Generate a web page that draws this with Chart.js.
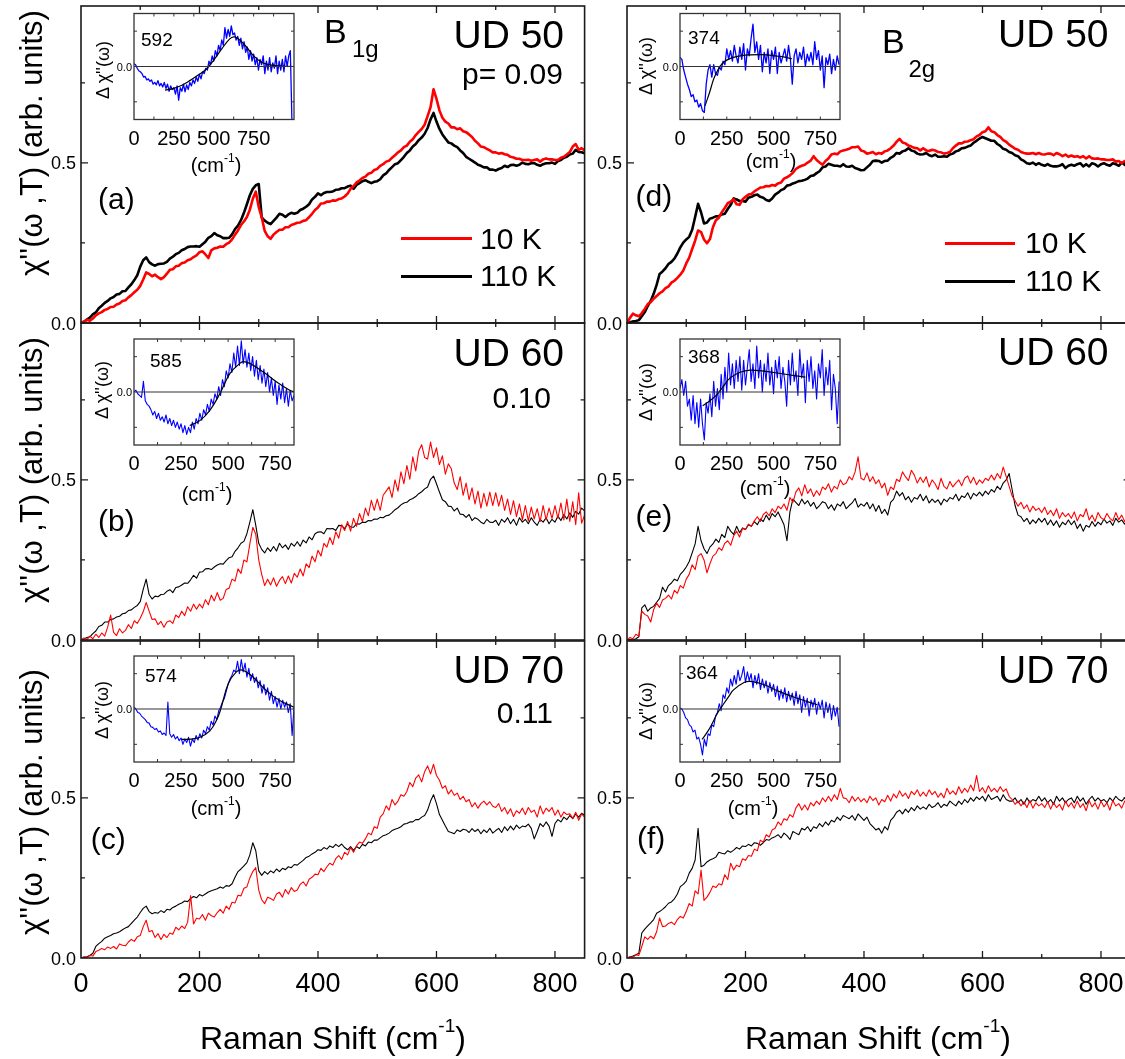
<!DOCTYPE html>
<html>
<head>
<meta charset="utf-8">
<title>Raman response B1g / B2g, UD 50 / 60 / 70</title>
<script src="https://cdn.jsdelivr.net/npm/chart.js@4.4.1/dist/chart.umd.min.js"></script>
<style>
  html, body { margin: 0; padding: 0; background: #fff; }
  body { position: relative; width: 1125px; height: 1059px; overflow: hidden;
         font-family: "Liberation Sans", Arial, Helvetica, sans-serif; color: #000; }
  canvas { position: absolute; left: 0; top: 0; }
  .t { position: absolute; white-space: nowrap; line-height: 1; z-index: 5; }
  .r { transform: translateX(-100%); }
  .c { transform: translateX(-50%); }
  .rot { transform: translate(-50%, -50%) rotate(-90deg); }
  .sup { font-size: 0.6em; position: relative; top: -0.85em; }
  .leg { position: absolute; height: 3px; z-index: 5; }
</style>
</head>
<body>
<script>
// spectra are sampled every 5 cm-1 from 0 to 850, insets every 10 cm-1
const ramanStep = 5;
const insetStep = 10;

// B1g, UD 50 (a)
const a10K = [
  0,.004,.01,.007,.014,.024,.03,.034,.041,.044,
  .05,.051,.058,.061,.069,.071,.08,.087,.096,.104,
  .116,.136,.158,.153,.146,.151,.143,.137,.143,.154,
  .166,.168,.177,.179,.187,.189,.196,.199,.206,.211,
  .221,.224,.214,.203,.227,.233,.235,.239,.238,.246,
  .251,.261,.276,.289,.306,.317,.331,.354,.388,.41,
  .362,.33,.288,.271,.263,.276,.284,.291,.291,.299,
  .299,.306,.309,.313,.314,.319,.321,.331,.341,.353,
  .361,.373,.374,.379,.379,.383,.382,.387,.389,.395,
  .404,.419,.427,.439,.445,.453,.457,.466,.469,.478,
  .481,.491,.496,.504,.507,.516,.524,.533,.539,.549,
  .554,.566,.574,.587,.597,.606,.619,.646,.674,.73,
  .7,.664,.641,.629,.623,.611,.611,.605,.608,.599,
  .596,.589,.581,.569,.561,.551,.549,.544,.539,.533,
  .533,.529,.531,.527,.525,.519,.517,.513,.513,.509,
  .509,.51,.507,.509,.511,.504,.511,.514,.511,.511,
  .509,.509,.516,.519,.526,.534,.551,.559,.541,.546,
  .539
];
const a110K = [
  0,.004,.011,.017,.027,.033,.046,.054,.063,.069,
  .077,.081,.089,.091,.099,.1,.111,.121,.134,.149,
  .176,.196,.205,.19,.183,.179,.184,.185,.186,.191,
  .201,.207,.215,.219,.227,.231,.237,.239,.239,.24,
  .238,.246,.254,.266,.271,.281,.274,.271,.265,.265,
  .266,.277,.293,.304,.321,.344,.371,.399,.419,.43,
  .434,.33,.32,.313,.309,.319,.329,.341,.338,.331,
  .339,.344,.341,.344,.353,.357,.363,.371,.386,.394,
  .405,.399,.406,.409,.409,.411,.416,.417,.421,.421,
  .426,.429,.419,.431,.437,.443,.446,.441,.437,.441,
  .443,.449,.461,.467,.478,.487,.496,.499,.509,.519,
  .531,.539,.551,.559,.571,.579,.591,.609,.636,.656,
  .629,.606,.589,.576,.564,.561,.554,.549,.539,.531,
  .519,.513,.507,.501,.494,.491,.486,.486,.479,.479,
  .476,.481,.484,.491,.487,.493,.494,.491,.494,.501,
  .497,.496,.499,.499,.494,.491,.496,.499,.499,.501,
  .497,.506,.509,.516,.519,.526,.529,.541,.534,.533,
  .53
];

// B1g, UD 60 (b)
const b10K = [
  0,.006,.001,.012,.004,.018,.008,.022,.012,.04,
  .078,.024,.014,.035,.022,.03,.048,.036,.06,.052,
  .068,.088,.117,.09,.064,.066,.048,.058,.04,.056,
  .06,.052,.078,.07,.09,.076,.104,.09,.112,.096,
  .112,.1,.126,.11,.14,.122,.148,.124,.13,.158,
  .162,.19,.184,.222,.208,.25,.244,.3,.352,.33,
  .25,.205,.17,.19,.172,.194,.168,.186,.198,.176,
  .2,.178,.208,.196,.222,.2,.238,.226,.262,.244,
  .28,.262,.302,.29,.32,.298,.338,.318,.36,.342,
  .37,.34,.38,.355,.395,.37,.412,.388,.436,.405,
  .44,.405,.452,.465,.478,.445,.5,.465,.525,.488,
  .545,.502,.572,.528,.59,.61,.57,.565,.618,.57,
  .6,.548,.575,.518,.55,.535,.49,.47,.51,.452,
  .49,.438,.475,.425,.465,.412,.458,.418,.462,.42,
  .46,.418,.452,.405,.44,.392,.435,.385,.425,.375,
  .42,.372,.415,.378,.41,.37,.42,.375,.412,.38,
  .42,.38,.428,.375,.44,.37,.432,.36,.46,.365,
  .39
];
const b110K = [
  0,.003,.008,.01,.02,.028,.042,.046,.056,.056,
  .064,.066,.072,.074,.082,.084,.092,.094,.102,.108,
  .12,.158,.19,.142,.128,.137,.135,.142,.143,.152,
  .157,.148,.164,.166,.172,.178,.177,.188,.202,.193,
  .212,.213,.222,.223,.22,.228,.234,.238,.237,.248,
  .257,.26,.277,.288,.302,.308,.332,.368,.407,.358,
  .302,.283,.272,.288,.277,.292,.278,.302,.288,.297,
  .283,.302,.293,.307,.293,.312,.303,.322,.313,.332,
  .337,.338,.332,.348,.347,.348,.342,.358,.357,.348,
  .362,.353,.352,.363,.362,.368,.367,.373,.372,.378,
  .377,.383,.382,.388,.39,.398,.407,.413,.422,.428,
  .43,.438,.442,.448,.457,.463,.472,.478,.502,.512,
  .488,.462,.438,.432,.418,.417,.403,.412,.393,.392,
  .383,.392,.373,.382,.377,.368,.363,.377,.368,.367,
  .374,.358,.377,.368,.382,.363,.377,.358,.382,.368,
  .377,.363,.382,.368,.358,.377,.368,.382,.363,.377,
  .368,.387,.373,.392,.378,.397,.383,.402,.393,.412,
  .403
];

// B1g, UD 70 (c)
const c10K = [
  0,.004,.002,.008,.006,.02,.024,.03,.026,.034,
  .03,.036,.028,.044,.04,.038,.05,.058,.052,.066,
  .07,.098,.118,.082,.086,.064,.076,.058,.074,.064,
  .078,.074,.096,.088,.1,.092,.112,.195,.106,.124,
  .122,.136,.118,.14,.132,.128,.142,.152,.14,.162,
  .152,.174,.172,.196,.194,.218,.222,.25,.27,.282,
  .212,.182,.17,.19,.186,.18,.2,.205,.19,.214,
  .2,.22,.208,.212,.23,.238,.225,.246,.252,.262,
  .26,.28,.27,.285,.296,.29,.31,.32,.308,.33,
  .322,.345,.33,.35,.362,.358,.372,.39,.385,.41,
  .405,.44,.45,.475,.462,.495,.478,.49,.51,.505,
  .52,.548,.535,.562,.572,.55,.582,.6,.575,.605,
  .57,.555,.53,.538,.512,.525,.508,.515,.495,.505,
  .488,.495,.472,.485,.468,.482,.49,.478,.488,.474,
  .47,.482,.458,.47,.45,.466,.442,.46,.452,.468,
  .448,.47,.455,.462,.44,.475,.45,.468,.458,.47,
  .446,.462,.44,.456,.448,.45,.436,.455,.43,.45,
  .44
];
const c110K = [
  0,.002,.004,.008,.015,.036,.045,.052,.062,.066,
  .07,.076,.078,.082,.088,.094,.098,.108,.118,.128,
  .142,.155,.162,.145,.138,.142,.14,.148,.142,.152,
  .15,.158,.162,.168,.172,.178,.176,.186,.192,.188,
  .198,.194,.2,.206,.21,.213,.216,.222,.218,.226,
  .224,.232,.252,.27,.278,.288,.298,.322,.36,.335,
  .272,.258,.27,.262,.272,.266,.278,.27,.28,.276,
  .285,.282,.292,.29,.298,.305,.314,.318,.325,.33,
  .338,.336,.345,.34,.35,.345,.355,.348,.356,.345,
  .338,.348,.336,.348,.342,.355,.35,.362,.36,.368,
  .368,.375,.382,.385,.39,.398,.402,.405,.41,.418,
  .42,.425,.425,.432,.432,.44,.445,.462,.49,.51,
  .482,.448,.43,.412,.395,.392,.388,.4,.395,.402,
  .4,.392,.404,.395,.402,.388,.4,.392,.405,.39,
  .398,.405,.392,.41,.398,.412,.4,.415,.405,.412,
  .41,.418,.405,.372,.395,.42,.41,.425,.412,.38,
  .42,.432,.425,.44,.432,.445,.435,.45,.44,.452,
  .446
];

// B2g, UD 50 (d)
const d10K = [
  0,.016,.029,.024,.021,.031,.044,.059,.065,.076,
  .084,.093,.099,.109,.114,.126,.132,.141,.151,.164,
  .186,.204,.231,.257,.289,.284,.261,.249,.262,.299,
  .321,.329,.346,.359,.374,.379,.386,.371,.369,.386,
  .394,.401,.403,.411,.417,.423,.424,.428,.427,.431,
  .429,.436,.439,.451,.455,.461,.469,.481,.487,.491,
  .494,.501,.507,.521,.509,.501,.494,.506,.514,.526,
  .529,.527,.536,.539,.541,.544,.549,.549,.551,.539,
  .536,.529,.531,.534,.527,.531,.529,.536,.539,.546,
  .554,.566,.575,.564,.561,.554,.551,.547,.546,.539,
  .546,.539,.537,.541,.539,.534,.533,.529,.531,.534,
  .546,.554,.561,.561,.566,.567,.571,.574,.583,.587,
  .596,.599,.611,.599,.596,.587,.581,.571,.566,.557,
  .551,.544,.541,.534,.531,.529,.529,.531,.527,.531,
  .527,.526,.529,.529,.524,.531,.527,.521,.526,.519,
  .523,.519,.521,.517,.521,.514,.521,.514,.513,.514,
  .511,.511,.509,.509,.511,.504,.506,.499,.506,.499,
  .501
];
const d110K = [
  0,.002,.005,.006,.009,.021,.034,.053,.069,.091,
  .119,.153,.161,.171,.184,.191,.201,.217,.236,.251,
  .261,.269,.291,.331,.372,.346,.311,.314,.326,.329,
  .333,.334,.339,.341,.356,.369,.389,.386,.381,.381,
  .379,.391,.394,.399,.401,.394,.391,.384,.381,.389,
  .401,.407,.415,.419,.429,.431,.436,.439,.443,.444,
  .447,.451,.459,.461,.468,.474,.486,.489,.497,.494,
  .491,.491,.489,.496,.489,.488,.491,.484,.481,.477,
  .478,.486,.494,.506,.507,.506,.501,.506,.507,.516,
  .521,.531,.529,.536,.539,.546,.539,.536,.529,.526,
  .527,.531,.524,.521,.526,.519,.519,.521,.519,.526,
  .529,.536,.539,.546,.547,.551,.554,.563,.569,.576,
  .581,.577,.573,.569,.569,.559,.553,.544,.541,.534,
  .531,.524,.521,.511,.506,.499,.497,.501,.494,.499,
  .494,.491,.496,.491,.489,.489,.491,.496,.484,.491,
  .494,.491,.496,.499,.489,.496,.489,.499,.496,.489,
  .496,.499,.494,.491,.499,.496,.491,.501,.494,.489,
  .496
];

// B2g, UD 60 (e)
const e10K = [
  0,.008,.004,.018,.012,.09,.08,.075,.056,.095,
  .115,.102,.125,.13,.14,.128,.155,.146,.17,.162,
  .19,.205,.235,.22,.262,.27,.25,.21,.238,.262,
  .27,.288,.28,.302,.31,.296,.325,.34,.322,.348,
  .345,.362,.355,.372,.385,.37,.392,.4,.388,.41,
  .398,.418,.41,.425,.405,.445,.43,.462,.475,.45,
  .485,.458,.472,.448,.466,.452,.478,.47,.488,.462,
  .48,.472,.5,.485,.49,.51,.5,.525,.572,.505,
  .5,.522,.495,.51,.488,.5,.475,.49,.452,.478,
  .47,.502,.495,.525,.51,.498,.53,.515,.49,.508,
  .492,.51,.478,.5,.488,.47,.505,.48,.472,.495,
  .478,.49,.5,.482,.505,.512,.49,.508,.485,.5,
  .49,.505,.498,.515,.5,.52,.505,.54,.51,.48,
  .45,.435,.418,.43,.41,.422,.4,.418,.405,.412,
  .398,.415,.392,.405,.388,.41,.38,.398,.385,.395,
  .38,.4,.372,.392,.385,.41,.375,.39,.37,.398,
  .382,.375,.395,.38,.372,.398,.376,.39,.37,.388,
  .378
];
const e110K = [
  0,.002,0,.004,.01,.1,.11,.09,.1,.105,
  .118,.13,.165,.15,.17,.178,.19,.185,.205,.215,
  .228,.245,.272,.3,.355,.31,.285,.27,.29,.3,
  .315,.305,.33,.32,.355,.34,.33,.355,.335,.35,
  .345,.36,.355,.37,.36,.378,.37,.39,.375,.395,
  .385,.4,.38,.36,.31,.4,.44,.43,.42,.44,
  .425,.435,.418,.43,.41,.42,.432,.428,.41,.422,
  .405,.425,.418,.432,.41,.42,.428,.442,.415,.425,
  .418,.43,.41,.425,.402,.42,.395,.408,.39,.43,
  .44,.465,.45,.46,.438,.448,.43,.445,.44,.455,
  .435,.45,.428,.44,.43,.438,.422,.44,.432,.445,
  .44,.455,.435,.45,.445,.46,.44,.458,.45,.462,
  .45,.465,.455,.47,.462,.48,.47,.49,.5,.52,
  .47,.42,.39,.385,.37,.38,.362,.375,.365,.38,
  .368,.38,.36,.375,.358,.372,.352,.368,.36,.375,
  .36,.372,.348,.362,.34,.358,.352,.37,.355,.368,
  .36,.378,.365,.372,.358,.38,.368,.375,.362,.372,
  .365
];

// B2g, UD 70 (f)
const f10K = [
  0,.004,.002,.01,.008,.036,.066,.058,.068,.06,
  .082,.125,.098,.1,.108,.112,.104,.12,.13,.125,
  .145,.17,.162,.21,.2,.275,.18,.19,.205,.225,
  .22,.232,.228,.26,.245,.296,.275,.29,.285,.31,
  .305,.32,.318,.34,.335,.368,.362,.385,.378,.4,
  .405,.425,.415,.435,.43,.448,.44,.468,.482,.462,
  .478,.462,.485,.475,.49,.48,.5,.488,.505,.49,
  .51,.495,.53,.5,.498,.485,.505,.49,.502,.488,
  .498,.485,.505,.492,.5,.478,.495,.488,.508,.49,
  .512,.5,.522,.505,.515,.498,.52,.51,.525,.505,
  .518,.505,.525,.51,.52,.502,.515,.5,.53,.512,
  .522,.51,.535,.515,.53,.518,.54,.522,.57,.52,
  .532,.515,.538,.52,.53,.518,.535,.52,.528,.505,
  .495,.48,.49,.475,.488,.47,.492,.468,.485,.475,
  .482,.47,.488,.465,.485,.47,.48,.462,.49,.472,
  .485,.468,.49,.47,.482,.46,.492,.472,.485,.465,
  .49,.472,.485,.462,.492,.475,.482,.468,.49,.478,
  .48
];
const f110K = [
  0,.003,.006,.01,.015,.078,.09,.1,.11,.12,
  .14,.145,.152,.16,.171,.175,.185,.2,.223,.23,
  .24,.265,.28,.306,.405,.285,.29,.3,.306,.31,
  .315,.33,.327,.325,.335,.33,.337,.345,.34,.35,
  .348,.355,.35,.36,.358,.352,.36,.37,.368,.375,
  .379,.385,.375,.39,.382,.37,.395,.39,.385,.405,
  .4,.41,.395,.41,.405,.42,.41,.425,.415,.43,
  .425,.44,.43,.445,.44,.435,.445,.43,.45,.44,
  .43,.44,.42,.41,.4,.405,.39,.41,.4,.43,
  .44,.455,.462,.45,.465,.455,.47,.46,.475,.465,
  .472,.465,.48,.47,.475,.485,.47,.48,.475,.49,
  .482,.475,.49,.48,.495,.485,.5,.49,.503,.495,
  .505,.49,.51,.495,.5,.505,.49,.51,.495,.49,
  .49,.5,.485,.495,.48,.5,.485,.495,.49,.505,
  .49,.5,.485,.495,.48,.505,.49,.5,.485,.495,
  .5,.485,.505,.49,.5,.48,.495,.505,.49,.5,
  .49,.495,.485,.5,.49,.505,.495,.49,.5,.495,
  .5
];

// inset difference spectra (10 K - 110 K), arbitrary units
const diffA = [
  .08,.05,-.05,-.12,-.15,-.2,-.3,-.28,-.38,-.35,
  -.42,-.38,-.5,-.45,-.52,-.4,-.55,-.48,-.58,-.45,
  -.62,-.5,-.7,-.55,-.65,-.6,-.78,-.55,-.95,-.6,
  -.7,-.5,-.72,-.52,-.65,-.45,-.55,-.38,-.48,-.3,
  -.42,-.22,-.35,-.15,-.2,-.05,-.1,.15,.05,.3,
  .15,.45,.3,.6,.45,.75,.6,1.1,.8,1.05,
  .85,1.15,.9,.95,.75,.85,.6,.8,.5,.7,
  .4,.55,.2,.45,.15,.35,.05,.25,-.1,.2,
  .05,.3,-.2,.15,-.1,.25,-.15,.1,-.05,.3,
  -.2,.15,-.1,.2,-.15,.3,0,.3,.45,-1.55
];
const diffB = [
  0,.05,-.05,-.1,-.15,.3,-.25,-.35,-.4,-.5,
  -.65,-.55,-.75,-.6,-.8,-.7,-.85,-.65,-.9,-.75,
  -.95,-.8,-1,-.85,-1.05,-.9,-1.15,-.95,-1.2,-1,
  -1.15,-.85,-1.05,-.75,-.9,-.6,-.8,-.5,-.65,-.35,
  -.55,-.2,-.35,-.05,-.2,.15,-.1,.35,.15,.6,
  .4,.8,.55,1.1,.7,1.3,.75,1.45,.8,1.2,
  .7,1.1,.6,1,.45,.9,.35,.75,.25,.65,
  .15,.55,0,.4,-.1,.3,-.35,.2,-.2,.25,
  -.3,.1,-.4,.05,-.25,-.1
];
const diffC = [
  .05,0,-.1,-.12,-.2,-.25,-.3,-.38,-.4,-.5,
  -.52,-.58,-.55,-.65,-.62,-.72,-.68,-.75,.2,-.7,
  -.8,-.72,-.85,-.78,-.9,-.82,-1,-.85,-.95,-.8,
  -1.05,-.85,-.95,-.75,-.88,-.7,-.82,-.6,-.7,-.5,
  -.6,-.35,-.45,-.2,-.3,-.05,.05,.2,.3,.5,
  .7,.85,.95,1.1,1.05,1.35,1,1.4,1.05,1.3,
  .9,1.15,.8,1,.75,.9,.6,.8,.45,.7,
  .4,.6,.25,.5,.15,.35,.05,.3,0,.25,
  .05,.2,-.1,.15,-.75,.05
];
const diffD = [
  .26,.2,-.1,-.3,-.5,-.65,-.85,-.8,-1,-.95,
  -1.15,-1.05,-1.25,-1.3,-.5,-.1,.05,-.3,.05,-.2,
  -.25,0,-.1,.15,.05,.5,.2,.45,.15,.6,
  .3,.1,.55,.2,.65,-.1,.5,.3,.8,1.2,
  .4,.7,.2,.6,-.15,.4,.1,.5,-.2,.45,
  .2,.55,-.2,.4,.1,.3,.5,.15,.6,.2,
  -.5,.3,.5,.1,.4,.2,.55,0,.35,.15,
  .4,.05,.7,.2,.45,-.1,.3,-.6,.25,.05,
  .35,-.2,.2,-.1,.3,.05
];
const diffE = [
  .1,.35,-.1,.3,-.4,-.2,-.8,-.1,-.9,-.3,
  -1,-.2,-.9,-1.36,-.3,-.6,-.05,-.7,.3,-.4,
  .1,-.5,.5,-.2,.7,0,1.1,.2,.8,.1,
  .9,.3,1,.05,.9,.2,.7,1.2,.3,.8,
  .1,1.3,.4,.9,0,.8,.3,1.1,.2,.7,
  -.05,.9,.4,1,.1,.7,.3,-.4,.9,.2,
  1.1,.3,.6,-.1,1.2,.4,.8,-.3,.9,.3,
  1,.1,.6,-.2,.8,.4,1.2,-.1,.7,.2,
  .9,-.5,.5,.1,-.9,.3
];
const diffF = [
  .03,0,-.1,-.25,-.3,-.45,-.5,-.65,-.6,-.85,
  -.8,-1,-1.3,-.85,-1.05,-.7,-.75,-.45,-.5,-.2,
  -.1,.15,-.05,.4,.3,.6,.45,.85,.65,.95,
  .7,1.1,.8,.95,1.2,.75,1.05,.8,1,.6,
  .95,.7,1,.55,.85,.6,.8,.45,.75,.5,
  .7,.35,.65,.25,.55,.3,.6,.2,.5,.25,
  .45,.1,.5,.15,.4,-.1,.35,.05,.3,-.2,
  .25,.05,.3,-.15,.2,0,.25,-.25,.2,-.1,
  .15,-.3,.1,-.2,.05,-.5
];

// fitted gap features [shift, value]
const fitA = [[194,-.67],[250,-.62],[300,-.53],[350,-.4],[400,-.25],[454,-.07],[500,.18],[550,.5],[600,.78],[625,.84],[650,.8],[700,.58],[750,.3],[800,.12],[850,.05],[900,.02],[1000,0]];
const fitB = [[296,-.95],[350,-.81],[403,-.52],[456,-.05],[509,.52],[562,.81],[580,.86],[615,.81],[686,.57],[756,.29],[827,.05],[850,0]];
const fitC = [[253,-.86],[300,-.85],[350,-.8],[403,-.62],[440,-.3],[461,0],[500,.71],[544,1.05],[576,1.1],[633,.9],[703,.52],[774,.24],[850,.05]];
const fitD = [[134,-1.11],[160,-.7],[179,-.37],[200,-.12],[223,.07],[250,.18],[286,.26],[330,.31],[375,.33],[420,.335],[464,.33],[510,.3],[554,.27],[598,.22]];
const fitE = [[121,-.39],[160,-.25],[196,-.08],[230,.15],[268,.4],[321,.56],[375,.62],[446,.59],[554,.51],[670,.42]];
const fitF = [[118,-.86],[150,-.62],[174,-.39],[200,-.12],[230,.12],[260,.35],[286,.54],[342,.75],[379,.78],[454,.68],[528,.5],[622,.31],[734,.12]];

// ticks and labels
const xTickLabels = [0, 200, 400, 600, 800];
const xMinorTicks = [100, 300, 500, 700];
const yTicks = [0, 0.5];
const yTickText = ['0.0', '0.5'];
const yMinorTicks = [0.25, 0.75];
const insetTickLabels = [0, 250, 500, 750];
const insetTicks = [125, 250, 375, 500, 625, 750, 875];
const insetYTicks = [-1, 1];
const sampleNames = ['UD 50', 'UD 60', 'UD 70'];
const dopings = ['p= 0.09', '0.10', '0.11'];
const panelTags = ['(a)', '(b)', '(c)', '(d)', '(e)', '(f)'];
const gapPeaks = ['592', '585', '574', '374', '368', '364'];
const legendNames = ['10 K', '110 K'];

const W = 1140, H = 1059;
const FONT = '"Liberation Sans", Arial, sans-serif';

function toPoints(vals, step) {
  return vals.map((v, i) => ({ x: i * step, y: v }));
}
function pairPoints(pairs) {
  return pairs.map(p => ({ x: p[0], y: p[1] }));
}

// frame, inward ticks and tick labels drawn from the chart's own scales
const framePlugin = {
  id: 'frame',
  beforeDatasetsDraw(chart, args, o) {
    if (!o.fill) return;
    const a = chart.chartArea, ctx = chart.ctx;
    ctx.save();
    ctx.fillStyle = o.fill;
    ctx.fillRect(a.left, a.top, a.right - a.left, a.bottom - a.top);
    ctx.restore();
  },
  afterDatasetsDraw(chart, args, o) {
    const ctx = chart.ctx, a = chart.chartArea;
    const xs = chart.scales.x, ys = chart.scales.y;
    ctx.save();
    ctx.strokeStyle = o.color;
    if (o.zeroLine) {
      const p = ys.getPixelForValue(0);
      ctx.lineWidth = 1.2;
      ctx.beginPath();
      ctx.moveTo(a.left, p);
      ctx.lineTo(a.right, p);
      ctx.stroke();
    }
    ctx.lineWidth = o.tickWidth;
    ctx.beginPath();
    const vTick = (v, len) => {
      if (v <= xs.min || v >= xs.max) return;
      const p = xs.getPixelForValue(v);
      ctx.moveTo(p, a.bottom); ctx.lineTo(p, a.bottom - len);
      ctx.moveTo(p, a.top); ctx.lineTo(p, a.top + len);
    };
    const hTick = (v, len) => {
      if (v <= ys.min || v >= ys.max) return;
      const p = ys.getPixelForValue(v);
      ctx.moveTo(a.left, p); ctx.lineTo(a.left + len, p);
      ctx.moveTo(a.right, p); ctx.lineTo(a.right - len, p);
    };
    o.xMajor.forEach(v => vTick(v, o.majorLen));
    o.xMinor.forEach(v => vTick(v, o.minorLen));
    o.yMajor.forEach(v => hTick(v, o.majorLen));
    o.yMinor.forEach(v => hTick(v, o.minorLen));
    ctx.stroke();
    ctx.lineWidth = o.borderWidth;
    ctx.strokeRect(a.left, a.top, a.right - a.left, a.bottom - a.top);

    ctx.fillStyle = '#000';
    ctx.textBaseline = 'alphabetic';
    if (o.xLabels) {
      ctx.font = o.xFont;
      ctx.textAlign = 'center';
      o.xLabels.forEach(v => ctx.fillText(String(v), xs.getPixelForValue(v), a.bottom + o.xLabelOffset));
    }
    if (o.yLabels) {
      ctx.font = o.yFont;
      ctx.textAlign = 'right';
      o.yLabels.forEach((v, i) => ctx.fillText(o.yLabelText[i], a.left - o.yLabelGap, ys.getPixelForValue(v) + o.yLabelShift));
    }
    ctx.restore();
  }
};
Chart.register(framePlugin);

function makeChart(box, xMax, yMin, yMax, datasets, frame) {
  const cv = document.createElement('canvas');
  cv.width = W; cv.height = H;
  cv.style.width = W + 'px'; cv.style.height = H + 'px';
  document.body.appendChild(cv);
  return new Chart(cv.getContext('2d'), {
    type: 'line',
    data: { datasets: datasets },
    options: {
      responsive: false,
      animation: false,
      devicePixelRatio: 1,
      events: [],
      layout: { padding: { left: box.left, top: box.top, right: W - box.left - box.width, bottom: H - box.top - box.height } },
      scales: {
        x: { type: 'linear', min: 0, max: xMax, display: false },
        y: { type: 'linear', min: yMin, max: yMax, display: false }
      },
      elements: { point: { radius: 0 }, line: { tension: 0, borderJoinStyle: 'round' } },
      plugins: { legend: { display: false }, tooltip: { enabled: false }, frame: frame }
    }
  });
}

// main panels
const plotW = 503.6, plotH = 317, yMax = 0.99;
const mainPanels = [
  { left: 81,  top: 6,   red: a10K, black: a110K, lw: 2.6, bottom: false },
  { left: 81,  top: 323, red: b10K, black: b110K, lw: 1.1, bottom: false },
  { left: 81,  top: 641, red: c10K, black: c110K, lw: 1.1, bottom: true },
  { left: 627, top: 6,   red: d10K, black: d110K, lw: 2.6, bottom: false },
  { left: 627, top: 323, red: e10K, black: e110K, lw: 1.1, bottom: false },
  { left: 627, top: 641, red: f10K, black: f110K, lw: 1.1, bottom: true }
];
mainPanels.forEach(p => {
  makeChart({ left: p.left, top: p.top, width: plotW, height: plotH }, 850, 0, yMax, [
    { label: legendNames[0], data: toPoints(p.red, ramanStep), borderColor: '#ff0000', borderWidth: p.lw },
    { label: legendNames[1], data: toPoints(p.black, ramanStep), borderColor: '#000000', borderWidth: p.lw }
  ], {
    color: '#1a1a1a', borderWidth: 1.6, tickWidth: 1.3, majorLen: 7, minorLen: 4,
    xMajor: xTickLabels, xMinor: xMinorTicks, yMajor: yTicks, yMinor: yMinorTicks,
    xLabels: p.bottom ? xTickLabels : null, xFont: '27px ' + FONT, xLabelOffset: 34,
    yLabels: yTicks, yLabelText: yTickText, yFont: '18px ' + FONT, yLabelGap: 5, yLabelShift: 6.5
  });
});

// insets
const insets = [
  { left: 134, top: 13.5, xMax: 1003, diff: diffA, fit: fitA, lw: 1.3 },
  { left: 134, top: 339,  xMax: 850,  diff: diffB, fit: fitB, lw: 1.1 },
  { left: 134, top: 656,  xMax: 850,  diff: diffC, fit: fitC, lw: 1.1 },
  { left: 680, top: 13.5, xMax: 855,  diff: diffD, fit: fitD, lw: 1.3 },
  { left: 680, top: 339,  xMax: 855,  diff: diffE, fit: fitE, lw: 1.1 },
  { left: 680, top: 656,  xMax: 855,  diff: diffF, fit: fitF, lw: 1.1 }
];
insets.forEach(p => {
  makeChart({ left: p.left, top: p.top, width: 160, height: 106 }, p.xMax, -1.5, 1.5, [
    { label: 'fit', data: pairPoints(p.fit), borderColor: '#000000', borderWidth: 1.2, tension: 0.4 },
    { label: 'difference', data: toPoints(p.diff, insetStep), borderColor: '#0000ff', borderWidth: p.lw }
  ], {
    fill: '#ffffff', zeroLine: true,
    color: '#333333', borderWidth: 1.3, tickWidth: 1, majorLen: 3, minorLen: 3,
    xMajor: insetTicks, xMinor: [], yMajor: insetYTicks, yMinor: [],
    xLabels: insetTickLabels, xFont: '20px ' + FONT, xLabelOffset: 25,
    yLabels: [0], yLabelText: ['0.0'], yFont: '11px ' + FONT, yLabelGap: 2, yLabelShift: 4
  });
});

// text annotations
const cm = '(cm<span class="sup">-1</span>)';
const texts = [
  // column headings
  { h: 'B', x: 324, y: 13.5, s: 34 }, { h: '1g', x: 352, y: 37, s: 24 },
  { h: 'B', x: 882, y: 23.5, s: 34 }, { h: '2g', x: 908.5, y: 57, s: 24 },
  // sample names
  { h: sampleNames[0], x: 453.5, y: 15, s: 39 }, { h: sampleNames[0], x: 998, y: 14, s: 39 },
  { h: sampleNames[1], x: 453.5, y: 333, s: 39 }, { h: sampleNames[1], x: 998, y: 331.6, s: 39 },
  { h: sampleNames[2], x: 453.5, y: 650, s: 39 }, { h: sampleNames[2], x: 998, y: 650, s: 39 },
  { h: dopings[0], x: 563, y: 59, s: 30, cls: 'r' },
  { h: dopings[1], x: 551, y: 382.8, s: 30, cls: 'r' },
  { h: dopings[2], x: 553, y: 697.8, s: 30, cls: 'r' },
  // panel tags
  { h: panelTags[0], x: 98, y: 184.4, s: 30 }, { h: panelTags[1], x: 98, y: 506.4, s: 30 },
  { h: panelTags[2], x: 90.7, y: 824.4, s: 30 }, { h: panelTags[3], x: 635.6, y: 181.4, s: 30 },
  { h: panelTags[4], x: 635.6, y: 501.4, s: 30 }, { h: panelTags[5], x: 637, y: 823, s: 30 },
  // legends
  { h: legendNames[0], x: 480, y: 223.5, s: 30 }, { h: legendNames[1], x: 480, y: 261.2, s: 30 },
  { h: legendNames[0], x: 1025, y: 228.2, s: 30 }, { h: legendNames[1], x: 1025, y: 266.2, s: 30 },
  // gap energies in insets
  { h: gapPeaks[0], x: 141, y: 29.5, s: 19 }, { h: gapPeaks[1], x: 150, y: 350.5, s: 19 },
  { h: gapPeaks[2], x: 145, y: 665.5, s: 19 }, { h: gapPeaks[3], x: 688, y: 27.5, s: 19 },
  { h: gapPeaks[4], x: 688, y: 346.5, s: 19 }, { h: gapPeaks[5], x: 686, y: 662.5, s: 19 },
  // inset axis titles
  { h: cm, x: 216, y: 154.7, s: 20, cls: 'c' }, { h: cm, x: 207, y: 484.4, s: 20, cls: 'c' },
  { h: cm, x: 216, y: 797.7, s: 20, cls: 'c' }, { h: cm, x: 771, y: 150.7, s: 20, cls: 'c' },
  { h: cm, x: 765, y: 477.7, s: 20, cls: 'c' }, { h: cm, x: 753, y: 797.7, s: 20, cls: 'c' },
  { h: "&Delta;&thinsp;&chi;''(&omega;)", x: 103, y: 70, s: 18, cls: 'rot' },
  { h: "&Delta;&thinsp;&chi;''(&omega;)", x: 102, y: 390, s: 18, cls: 'rot' },
  { h: "&Delta;&thinsp;&chi;''(&omega;)", x: 102, y: 710, s: 18, cls: 'rot' },
  { h: "&Delta;&thinsp;&chi;''(&omega;)", x: 646, y: 66, s: 18, cls: 'rot' },
  { h: "&Delta;&thinsp;&chi;''(&omega;)", x: 646, y: 392, s: 18, cls: 'rot' },
  { h: "&Delta;&thinsp;&chi;''(&omega;)", x: 646, y: 711, s: 18, cls: 'rot' },
  // main axis titles
  { h: 'Raman Shift ' + cm, x: 333, y: 1021.5, s: 32, cls: 'c' },
  { h: 'Raman Shift ' + cm, x: 878, y: 1021.5, s: 32, cls: 'c' },
  { h: "&chi;''(&omega; ,T) (arb. units)", x: 31, y: 143, s: 31, cls: 'rot' },
  { h: "&chi;''(&omega; ,T) (arb. units)", x: 31, y: 470, s: 31, cls: 'rot' },
  { h: "&chi;''(&omega; ,T) (arb. units)", x: 31, y: 802, s: 31, cls: 'rot' }
];
texts.forEach(t => {
  const d = document.createElement('div');
  d.className = 't' + (t.cls ? ' ' + t.cls : '');
  d.style.left = t.x + 'px';
  d.style.top = t.y + 'px';
  d.style.fontSize = t.s + 'px';
  d.innerHTML = t.h;
  document.body.appendChild(d);
});

// legend line samples
[[401, 236.8, 70.5, '#ff0000'], [401, 274.5, 70.5, '#000000'],
 [945, 241.5, 70, '#ff0000'], [945, 279.5, 70, '#000000']].forEach(l => {
  const d = document.createElement('div');
  d.className = 'leg';
  d.style.left = l[0] + 'px'; d.style.top = l[1] + 'px';
  d.style.width = l[2] + 'px'; d.style.background = l[3];
  document.body.appendChild(d);
});
</script>
</body>
</html>
